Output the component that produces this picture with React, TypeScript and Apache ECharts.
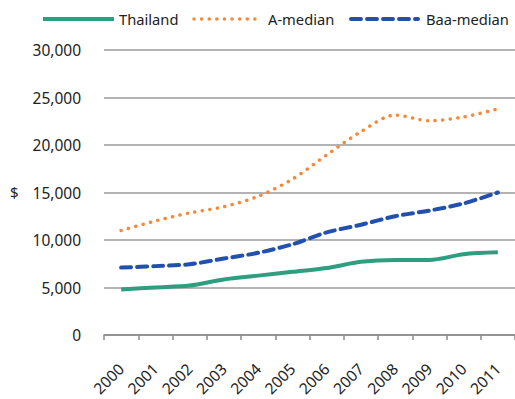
import React, { useEffect, useRef } from "react";
import * as echarts from "echarts";

const years = ["2000", "2001", "2002", "2003", "2004", "2005", "2006", "2007", "2008", "2009", "2010", "2011"];
const thailand = [4800, 5000, 5200, 5850, 6250, 6650, 7050, 7700, 7900, 7900, 8500, 8700];
const aMedian = [11000, 12000, 12850, 13500, 14600, 16400, 18950, 21400, 23150, 22550, 22950, 23800];
const baaMedian = [7100, 7250, 7450, 8050, 8650, 9550, 10800, 11600, 12500, 13100, 13850, 15000];
const seriesNames = ["Thailand", "A-median", "Baa-median"];

const FONT = "'Noto Sans', 'Open Sans', sans-serif";
const GREEN = "#2e9e80";
const ORANGE = "#f5893a";
const BLUE = "#2150b0";

const thaiStyle = { color: GREEN, width: 4 };
const aStyle = { color: ORANGE, width: 3.5, type: [0.1, 7.5], cap: "round" };
const baaStyle = { color: BLUE, width: 4, type: [10, 6], cap: "round" };

// Legend drawn by hand: sample stroke followed by the series name
const legendItems = [
  { name: seriesNames[0], x1: 43, x2: 114, tx: 119, stroke: GREEN, width: 4, dash: null as number[] | null, cap: "butt" },
  { name: seriesNames[1], x1: 194, x2: 262, tx: 268, stroke: ORANGE, width: 3.5, dash: [0.1, 7.5], cap: "round" },
  { name: seriesNames[2], x1: 351, x2: 418, tx: 426, stroke: BLUE, width: 4, dash: [10, 6], cap: "round" },
];
const LEGEND_Y = 19;

export default function App() {
  const ref = useRef<HTMLDivElement>(null);

  useEffect(() => {
    if (!ref.current) return;
    const chart = echarts.init(ref.current, undefined, { renderer: "svg" });
    const legendGraphics: any[] = [];
    legendItems.forEach((it) => {
      legendGraphics.push({
        type: "line",
        shape: { x1: it.x1, y1: LEGEND_Y, x2: it.x2, y2: LEGEND_Y },
        style: { stroke: it.stroke, lineWidth: it.width, lineDash: it.dash ?? undefined, lineCap: it.cap },
      });
      legendGraphics.push({
        type: "text",
        x: it.tx,
        y: LEGEND_Y,
        style: { text: it.name, font: `14.7px ${FONT}`, fill: "#222", verticalAlign: "middle" },
      });
    });

    chart.setOption({
      animation: false,
      graphic: [
        ...legendGraphics,
        {
          type: "text",
          left: 10,
          top: 184,
          style: { text: "$", font: `15px ${FONT}`, fill: "#222" },
        },
      ],
      grid: { left: 104, top: 50, width: 415, height: 285 },
      xAxis: {
        type: "category",
        data: years,
        boundaryGap: true,
        axisLine: { lineStyle: { color: "#8a8a8a", width: 1.5 } },
        axisTick: { show: true, length: 5, lineStyle: { color: "#8a8a8a", width: 1.5 } },
        axisLabel: {
          rotate: 45,
          margin: 31,
          fontFamily: FONT,
          fontSize: 15.5,
          color: "#222",
        },
      },
      yAxis: {
        type: "value",
        min: 0,
        max: 30000,
        interval: 5000,
        axisLine: { show: false },
        axisTick: { show: false },
        axisLabel: {
          margin: 23,
          fontFamily: FONT,
          fontSize: 15.5,
          color: "#222",
          formatter: (v: number) => v.toLocaleString("en-US"),
        },
        splitLine: { lineStyle: { color: "#9a9a9a", width: 1.5 } },
      },
      series: [
        { name: seriesNames[0], type: "line", data: thailand, smooth: 0.3, symbol: "none", itemStyle: { color: GREEN }, lineStyle: thaiStyle },
        { name: seriesNames[1], type: "line", data: aMedian, smooth: 0.3, symbol: "none", itemStyle: { color: ORANGE }, lineStyle: aStyle },
        { name: seriesNames[2], type: "line", data: baaMedian, smooth: 0.3, symbol: "none", itemStyle: { color: BLUE }, lineStyle: baaStyle },
      ],
    });
    return () => chart.dispose();
  }, []);

  return <div ref={ref} style={{ width: 515, height: 399, position: "absolute", left: 0, top: 0 }} />;
}
